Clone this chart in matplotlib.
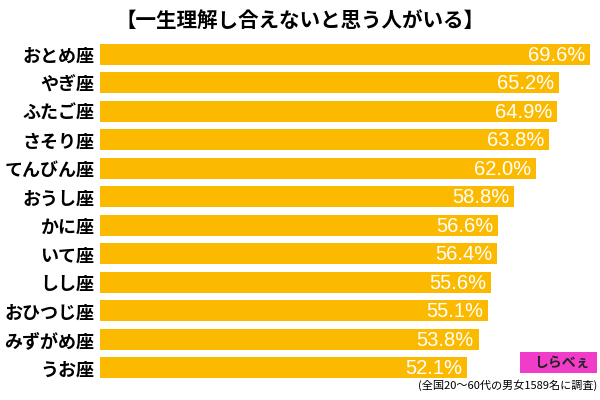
import matplotlib
matplotlib.use("Agg")
import matplotlib.pyplot as plt
from matplotlib.patches import FancyBboxPatch

plt.rcParams['font.family'] = ['Noto Sans CJK JP', 'DejaVu Sans']

signs = ['おとめ座', 'やぎ座', 'ふたご座', 'さそり座', 'てんびん座', 'おうし座',
         'かに座', 'いて座', 'しし座', 'おひつじ座', 'みずがめ座', 'うお座']
values = [69.6, 65.2, 64.9, 63.8, 62.0, 58.8, 56.6, 56.4, 55.6, 55.1, 53.8, 52.1]

title = '【一生理解し合えないと思う人がいる】'
note = '(全国20〜60代の男女1589名に調査)'

fig = plt.figure(figsize=(6, 4), dpi=100)
ax = fig.add_axes([100 / 600, 1 - 382 / 400, 490 / 600, 342 / 400])

y = list(range(len(signs)))
ax.barh(y, values, height=0.72, color='#FBBA00')
for yi, v in zip(y, values):
    ax.text(v - 0.7, yi + 0.03, f'{v:.1f}%', ha='right', va='center',
            color='white', fontsize=14.5, family=['Liberation Sans'])

ax.set_xlim(0, 69.6)
ax.set_ylim(len(signs) - 0.5, -0.5)
ax.set_yticks(y)
ax.set_yticklabels(signs, fontsize=13, fontweight='bold')
ax.tick_params(axis='y', length=0, pad=4)
ax.set_xticks([])
for s in ax.spines.values():
    s.set_visible(False)

fig.text(0.5, 0.948, title, ha='center', va='center', fontsize=14.8,
         fontweight='bold')
fig.text(0.995, 1 - 385 / 400, note, ha='right', va='center', fontsize=8)

# logo box
logo = FancyBboxPatch((520 / 600, 1 - 373 / 400), 77 / 600, 21 / 400,
                      boxstyle='square,pad=0', transform=fig.transFigure,
                      facecolor='#F03CC8', edgecolor='none')
fig.patches.append(logo)
fig.text(562 / 600, 1 - 363 / 400, 'しらべぇ', ha='center', va='center',
         fontsize=10, fontweight='bold', color='#222222')

fig.savefig('out.png', dpi=100)
